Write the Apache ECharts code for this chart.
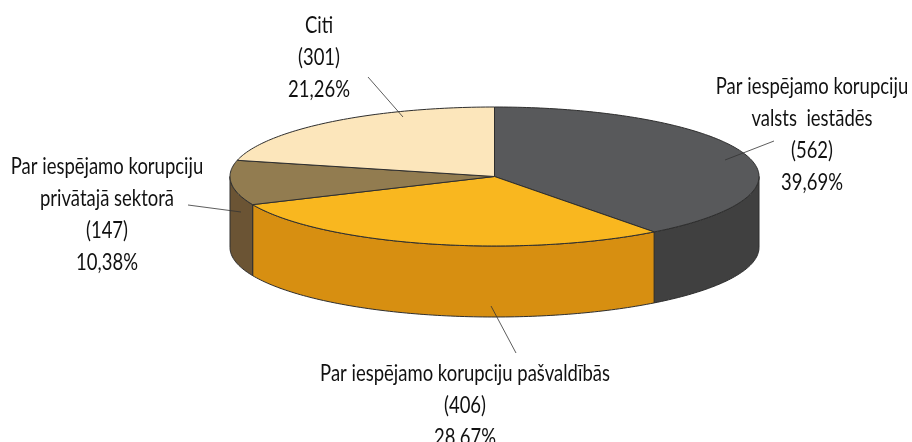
<!DOCTYPE html>
<html>
<head>
<meta charset="utf-8">
<script src="https://cdn.jsdelivr.net/npm/echarts@6/dist/echarts.min.js"></script>
<style>
  html, body { margin: 0; padding: 0; background: #fff; }
  #chart { width: 912px; height: 442px; }
</style>
</head>
<body>
<div id="chart"></div>
<script>
// data
const categories = [
  'Par iespējamo korupciju\nvalsts  iestādēs',
  'Par iespējamo korupciju pašvaldībās',
  'Par iespējamo korupciju\nprivātajā sektorā',
  'Citi'
];
const counts = [562, 406, 147, 301];
const percentLabels = ['39,69%', '28,67%', '10,38%', '21,26%'];

// colours of each slice
const topColors = ['#58595b', '#f9b71f', '#927c50', '#fce6bb'];
const sideColors = ['#404040', '#d78f11', '#6b5434', '#d78f11'];

// label text centre and leader line, same order as categories
const labelCenters = [[812, 134.5], [465, 405.5], [107, 214.5], [319, 57.5]];
const leaderLines = [
  [774, 141, 725, 160],
  [491, 306, 516, 353],
  [188, 205, 241, 212],
  [368, 77, 403, 117]
];

// the flattened disc
const CX = 494.5, CY = 176.5, RX = 264.5, RY = 69.5, DEPTH = 71;
const outline = '#2e2e2e';

const total = counts.reduce((a, b) => a + b, 0);
let running = 0;
const sliceAngles = counts.map(function (c) {
  const from = running / total * 360;
  running += c;
  return [from, running / total * 360];
});

// angle runs clockwise from 12 o'clock
function rimPoint(deg, dy) {
  const r = deg * Math.PI / 180;
  return [CX + RX * Math.sin(r), CY - RY * Math.cos(r) + dy];
}
function arc(from, to, dy) {
  const pts = [];
  const n = Math.max(2, Math.ceil(Math.abs(to - from)));
  for (let i = 0; i <= n; i++) {
    pts.push(rimPoint(from + (to - from) * i / n, dy));
  }
  return pts;
}

function renderSide(params, api) {
  // only the front half of the wall shows
  const from = Math.max(api.value(0), 90);
  const to = Math.min(api.value(1), 270);
  if (to <= from) return null;
  return {
    type: 'polygon',
    shape: { points: arc(from, to, 0).concat(arc(to, from, DEPTH)) },
    style: { fill: sideColors[params.dataIndex], stroke: outline, lineWidth: 1 }
  };
}

function renderTop(params, api) {
  return {
    type: 'polygon',
    shape: { points: [[CX, CY]].concat(arc(api.value(0), api.value(1), 0)) },
    style: { fill: topColors[params.dataIndex], stroke: outline, lineWidth: 1, lineJoin: 'round' }
  };
}

function renderLabel(params) {
  const i = params.dataIndex;
  const l = leaderLines[i];
  return {
    type: 'group',
    children: [
      {
        type: 'line',
        shape: { x1: l[0], y1: l[1], x2: l[2], y2: l[3] },
        style: { stroke: '#333', lineWidth: 0.8 }
      },
      {
        type: 'text',
        x: labelCenters[i][0],
        y: labelCenters[i][1],
        scaleX: 0.77, // no condensed font installed
        style: {
          text: categories[i] + '\n(' + counts[i] + ')\n' + percentLabels[i],
          align: 'center',
          verticalAlign: 'middle',
          fontFamily: 'Lato, "Open Sans", sans-serif',
          fontSize: 24,
          lineHeight: 32,
          fill: '#111'
        }
      }
    ]
  };
}

const chart = echarts.init(document.getElementById('chart'), null, { renderer: 'canvas' });
chart.setOption({
  animation: false,
  backgroundColor: '#fff',
  series: [
    { type: 'custom', coordinateSystem: 'none', z: 1, silent: true, renderItem: renderSide, data: sliceAngles },
    { type: 'custom', coordinateSystem: 'none', z: 2, silent: true, renderItem: renderTop, data: sliceAngles },
    { type: 'custom', coordinateSystem: 'none', z: 3, silent: true, renderItem: renderLabel, data: sliceAngles }
  ]
});
</script>
</body>
</html>
